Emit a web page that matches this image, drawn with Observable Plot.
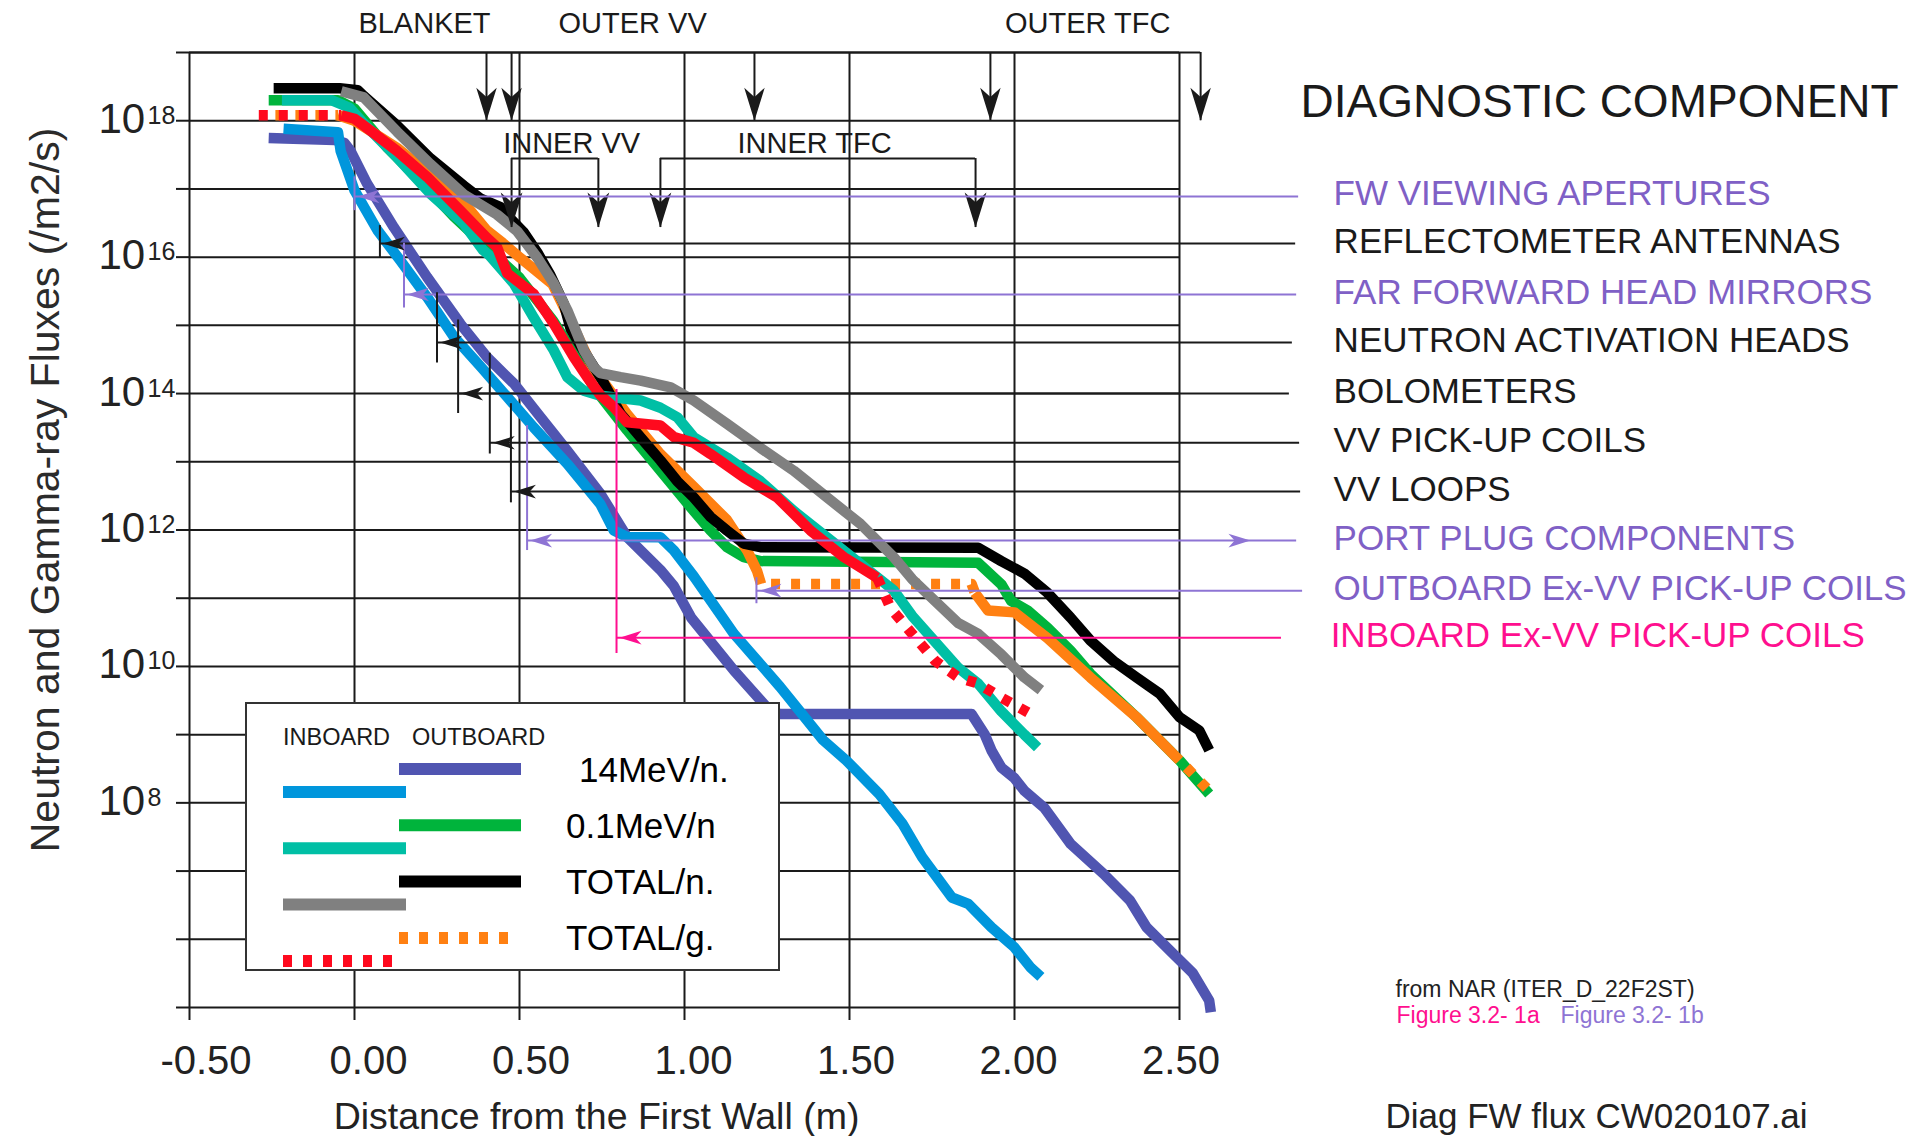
<!DOCTYPE html>
<html>
<head>
<meta charset="utf-8">
<script src="https://cdn.jsdelivr.net/npm/d3@7"></script>
<script src="https://cdn.jsdelivr.net/npm/@observablehq/plot@0.6"></script>
<style>
  html, body { margin: 0; padding: 0; background: #fff; }
  #chart { width: 1917px; height: 1136px; overflow: hidden; }
</style>
</head>
<body>
<div id="chart"></div>
<script>
const FONT = '"Liberation Sans", Arial, Helvetica, sans-serif';

// ---- colours --------------------------------------------------------------
const BLUE = "#0096dc", TEAL = "#00bfa5", GRAY = "#808080", RED = "#ff0a1e";
const PURPLE = "#5055b1", GREEN = "#00b43c", BLACK = "#000000", ORANGE = "#ff8012";
const LABEL_PURPLE = "#7f60c6", LEADER_PURPLE = "#8e74d4", PINK = "#ff0f8f", INK = "#1a1a1a";

// ---- axes -----------------------------------------------------------------
const xTicks = [-0.5, 0, 0.5, 1, 1.5, 2, 2.5];
const decades = [1e5, 1e6, 1e7, 1e8, 1e9, 1e10, 1e11, 1e12, 1e13, 1e14, 1e15, 1e16, 1e17, 1e18, 1e19];
const labeledExponents = [18, 16, 14, 12, 10, 8];

// ---- flux profiles: [distance from first wall (m), flux (/m2/s)] ----------
const inboard14MeV = [[-0.215, 7.6e17], [-0.05, 6.8e17], [-0.042, 3.6e17], [0.0, 9.5e16], [0.069, 2.5e16],
  [0.139, 8.9e15], [0.22, 2.6e15], [0.301, 6.8e14], [0.382, 2.5e14], [0.463, 8.9e13], [0.543, 3.2e13],
  [0.645, 9.3e12], [0.745, 2.4e12], [0.786, 9.8e11], [0.826, 7.9e11], [0.927, 7.8e11], [0.968, 5.0e11],
  [1.028, 2.1e11], [1.15, 3.0e10], [1.29, 5.0e9], [1.42, 8.3e8], [1.49, 4.2e8], [1.59, 1.35e8], [1.66, 5.0e7],
  [1.72, 1.6e7], [1.81, 4.1e6], [1.86, 3.3e6], [1.93, 1.5e6], [2.0, 7.6e5], [2.05, 3.8e5], [2.08, 2.8e5]];
const inboard01MeV = [[-0.22, 2.0e18], [-0.07, 2.0e18], [-0.015, 1.55e18], [0.028, 9.1e17], [0.129, 2.9e17],
  [0.23, 8.5e16], [0.331, 3.1e16], [0.39, 1.26e16], [0.41, 1.05e16], [0.483, 4.1e15], [0.543, 1.3e15],
  [0.604, 4.3e14], [0.645, 1.74e14], [0.695, 1.1e14], [0.745, 9.3e13], [0.867, 7.9e13], [0.927, 6.2e13],
  [0.978, 4.5e13], [1.028, 2.3e13], [1.129, 1.15e13], [1.23, 5.2e12], [1.331, 1.9e12], [1.432, 7.8e11],
  [1.533, 3.2e11], [1.634, 1.3e11], [1.69, 5.5e10], [1.83, 9.5e9], [1.89, 5.6e9], [1.96, 2.2e9],
  [2.03, 1.0e9], [2.07, 6.5e8]];
const inboardTotalN = [[-0.04, 2.7e18], [0.028, 2.2e18], [0.129, 6.9e17], [0.23, 2.3e17], [0.331, 8.3e16],
  [0.432, 4.2e16], [0.493, 2.4e16], [0.554, 9.8e15], [0.604, 4.1e15], [0.645, 1.66e15], [0.695, 4.3e14],
  [0.725, 2.45e14], [0.745, 2.0e14], [0.806, 1.74e14], [0.867, 1.55e14], [0.958, 1.23e14], [1.028, 7.9e13],
  [1.129, 3.6e13], [1.23, 1.6e13], [1.331, 7.4e12], [1.432, 3.0e12], [1.533, 1.23e12], [1.634, 4.0e11],
  [1.69, 1.9e11], [1.83, 4.3e10], [1.89, 3.0e10], [1.96, 1.5e10], [2.03, 6.9e9], [2.08, 4.5e9]];
const inboardTotalG = [[-0.29, 1.2e18], [-0.04, 1.2e18], [0.0, 1.07e18], [0.028, 8.5e17], [0.129, 3.6e17],
  [0.22, 1.5e17], [0.321, 4.8e16], [0.402, 1.9e16], [0.432, 1.4e16], [0.463, 5.8e15], [0.543, 2.9e15],
  [0.604, 1.05e15], [0.665, 3.4e14], [0.705, 1.74e14], [0.745, 9.5e13], [0.786, 6.3e13], [0.826, 3.8e13],
  [0.927, 3.4e13], [0.968, 2.3e13], [1.028, 1.9e13], [1.079, 1.3e13], [1.18, 5.9e12], [1.281, 3.0e12],
  [1.382, 9.8e11], [1.483, 4.0e11], [1.584, 2.0e11], [1.624, 7.2e10], [1.69, 3.0e10], [1.76, 1.2e10],
  [1.83, 6.9e9], [1.89, 5.6e9], [1.96, 3.5e9], [2.05, 2.0e9]];
const outboard14MeV = [[-0.26, 5.6e17], [-0.06, 5.2e17], [-0.03, 4.7e17], [-0.012, 3.6e17], [0.038, 1.2e17],
  [0.119, 2.75e16], [0.22, 5.1e15], [0.321, 1.05e15], [0.402, 3.4e14], [0.483, 1.4e14], [0.564, 4.5e13],
  [0.645, 1.45e13], [0.745, 3.4e12], [0.826, 7.9e11], [0.927, 2.6e11], [0.968, 1.5e11], [1.02, 5.2e10],
  [1.15, 8.7e9], [1.26, 2.2e9], [1.29, 2.0e9], [1.87, 2.0e9], [1.91, 1.0e9], [1.93, 5.9e8], [1.96, 3.3e8],
  [2.0, 2.3e8], [2.03, 1.5e8], [2.09, 8.5e7], [2.17, 2.5e7], [2.27, 9.1e6], [2.35, 3.7e6], [2.40, 1.5e6],
  [2.48, 6.2e5], [2.54, 3.2e5], [2.59, 1.26e5], [2.595, 8.5e4]];
const outboard01MeV = [[-0.26, 2.0e18], [-0.05, 2.0e18], [0.0, 1.5e18], [0.1, 4.0e17], [0.2, 1.3e17],
  [0.3, 4.0e16], [0.4, 1.4e16], [0.5, 5.0e15], [0.6, 1.2e15], [0.68, 3.0e14], [0.725, 1.23e14],
  [0.826, 2.9e13], [0.927, 7.4e12], [1.028, 1.9e12], [1.079, 9.8e11], [1.129, 5.6e11], [1.18, 4.0e11],
  [1.23, 3.5e11], [1.89, 3.3e11], [1.96, 1.6e11], [1.99, 9.1e10], [2.04, 6.6e10], [2.10, 3.7e10],
  [2.17, 1.7e10], [2.23, 7.8e9], [2.37, 1.8e9], [2.50, 4.2e8], [2.59, 1.35e8]];
const outboardTotalN = [[-0.245, 3.0e18], [-0.045, 3.0e18], [0.01, 2.8e18], [0.028, 2.3e18], [0.129, 8.5e17],
  [0.23, 2.8e17], [0.331, 1.12e17], [0.382, 7.2e16], [0.442, 5.4e16], [0.463, 4.1e16], [0.513, 2.3e16],
  [0.554, 1.17e16], [0.594, 5.4e15], [0.634, 2.1e15], [0.655, 8.9e14], [0.685, 5.0e14], [0.75, 1.6e14],
  [0.806, 5.1e13], [0.877, 2.0e13], [0.927, 1.05e13], [0.978, 5.2e12], [1.028, 3.0e12], [1.079, 1.55e12],
  [1.129, 9.8e11], [1.18, 6.3e11], [1.23, 5.6e11], [1.89, 5.5e11], [1.96, 3.5e11], [2.03, 2.3e11],
  [2.10, 1.2e11], [2.17, 5.2e10], [2.23, 2.4e10], [2.30, 1.2e10], [2.37, 6.9e9], [2.44, 4.0e9],
  [2.50, 1.8e9], [2.56, 1.15e9], [2.59, 5.9e8]];
const outboardTotalG = [[-0.27, 1.2e18], [-0.05, 1.2e18], [0.0, 1.0e18], [0.129, 4.0e17], [0.23, 1.6e17],
  [0.331, 6.3e16], [0.40, 2.5e16], [0.45, 1.6e16], [0.50, 1.0e16], [0.55, 6.3e15], [0.60, 4.0e15],
  [0.65, 1.3e15], [0.72, 2.5e14], [0.826, 5.0e13], [0.927, 1.3e13], [1.028, 4.3e12], [1.129, 1.4e12],
  [1.19, 5.0e11], [1.22, 2.5e11], [1.232, 1.62e11], [1.87, 1.62e11], [1.88, 1.2e11], [1.92, 6.6e10],
  [2.00, 6.2e10], [2.10, 2.6e10], [2.23, 6.9e9], [2.37, 1.8e9], [2.50, 4.2e8], [2.59, 1.5e8]];

// stretches (m) drawn with the dotted gamma style
const inboardTotalGDotted = [[-0.3, -0.035], [1.58, 2.1]];
const outboardTotalGDotted = [[-0.3, -0.045], [1.227, 1.875], [2.53, 2.6]];

// ---- machine structure along the radial path ------------------------------
const outerLabels = ["BLANKET", "OUTER VV", "OUTER TFC"];
const outerLabelX = [0.212, 0.843, 2.222];
const outerArrowX = [0.40, 0.476, 1.212, 1.927, 2.564];
const innerLabels = ["INNER VV", "INNER TFC"];
const innerLabelX = [0.658, 1.394];
const innerFrom = [0.476, 0.927];
const innerTo = [0.739, 1.882];

// ---- diagnostic components and their flux levels ---------------------------
const componentNames = ["FW VIEWING APERTURES", "REFLECTOMETER ANTENNAS", "FAR FORWARD HEAD MIRRORS",
  "NEUTRON ACTIVATION HEADS", "BOLOMETERS", "VV PICK-UP COILS", "VV LOOPS", "PORT PLUG COMPONENTS",
  "OUTBOARD Ex-VV PICK-UP COILS", "INBOARD Ex-VV PICK-UP COILS"];
const componentFlux = [7.75e16, 1.58e16, 2.83e15, 5.6e14, 1.0e14, 1.9e13, 3.66e12, 7.0e11, 1.29e11, 2.64e10];
const componentX = [0.0, 0.077, 0.15, 0.25, 0.314, 0.41, 0.474, 0.523, 1.218, 0.794];
const componentLineEnd = [2.861, 2.852, 2.855, 2.842, 2.833, 2.864, 2.867, 2.855, 2.873, 2.809];
const componentLow = [4.8e16, 9.8e15, 1.8e15, 2.8e14, 5.1e13, 1.3e13, 2.5e12, 5.0e11, 8.3e10, 1.55e10];
const componentHigh = [1.5e17, 2.9e16, 1.6e16, 3.0e15, 1.2e15, 3.9e14, 7.1e13, 3.4e13, 2.0e11, 1.15e14];
const componentLabelX = [2.967, 2.967, 2.967, 2.967, 2.967, 2.967, 2.967, 2.967, 2.967, 2.958];
const componentKind = ["fig1b", "nar", "fig1b", "nar", "nar", "nar", "nar", "fig1b", "fig1b", "fig1a"];
const portPlugArrowX = [2.715];

// ---- legend ---------------------------------------------------------------
const legendLabels = ["14MeV/n.", "0.1MeV/n", "TOTAL/n.", "TOTAL/g."];
const outboardColors = [PURPLE, GREEN, BLACK, ORANGE];
const inboardColors = [BLUE, TEAL, GRAY, RED];
const legendDotted = [false, false, false, true];

const sourceNote = "from NAR (ITER_D_22F2ST)";
const figureRefs = ["Figure 3.2- 1a", "Figure 3.2- 1b"];
const fileName = "Diag FW flux CW020107.ai";

// ---------------------------------------------------------------------------
const textColor = {nar: INK, fig1b: LABEL_PURPLE, fig1a: PINK};
const leaderColor = {nar: INK, fig1b: LEADER_PURPLE, fig1a: PINK};

// filled stealth arrowhead, tip at the anchor, pointing down before rotation
const stealth = {
  draw(context, size) {
    const r = Math.sqrt(size / Math.PI);
    const len = 2 * r, hw = 0.62 * r;
    context.moveTo(0, 0);
    context.lineTo(-hw, -len);
    context.lineTo(0, -0.72 * len);
    context.lineTo(hw, -len);
    context.closePath();
  }
};

// split a profile into solid and dotted runs
function runs(name, points, dotted = []) {
  const rows = [];
  let run = -1, prev = null;
  for (let i = 0; i + 1 < points.length; i++) {
    const [x0, y0] = points[i], [x1, y1] = points[i + 1];
    const mid = (x0 + x1) / 2;
    const isDotted = dotted.some(([a, b]) => mid >= a && mid <= b);
    if (isDotted !== prev) {
      run++;
      rows.push({run: `${name}-${run}`, dotted: isDotted, x: x0, y: y0});
      prev = isDotted;
    }
    rows.push({run: `${name}-${run}`, dotted: isDotted, x: x1, y: y1});
  }
  return rows;
}

const LW = 10.5;
function curve(name, points, color, dotted = [], offset = 0) {
  const rows = runs(name, points, dotted);
  return [
    Plot.line(rows.filter(d => !d.dotted), {x: "x", y: "y", z: "run", stroke: color, strokeWidth: LW,
      strokeLinejoin: "round", strokeLinecap: "butt"}),
    Plot.line(rows.filter(d => d.dotted), {x: "x", y: "y", z: "run", stroke: color, strokeWidth: LW,
      strokeLinejoin: "round", strokeLinecap: "butt", strokeDasharray: "9 11", strokeDashoffset: offset})
  ];
}

// tick labels sit a little right of their ticks, more so toward the left
const xTickLabels = xTicks.map(t => Plot.text([t], {x: d => d, frameAnchor: "bottom", text: d => d.toFixed(2),
  dy: 66, dx: 14 - 5 * t, lineAnchor: "bottom", fontSize: 40, fill: "#222"}));

const idx = d3.range(componentNames.length);
const innerIdx = d3.range(innerLabels.length);

const chart = Plot.plot({
  width: 1917,
  height: 1136,
  marginLeft: 189,
  marginRight: 738,
  marginTop: 52,
  marginBottom: 129,
  style: {fontFamily: FONT, background: "#fff", color: INK, overflow: "visible"},
  x: {domain: [-0.5, 2.5]},
  y: {type: "log", domain: [1e5, 1e19]},
  marks: [
    // grid and frame
    Plot.gridX(xTicks, {stroke: INK, strokeOpacity: 1, strokeWidth: 2}),
    Plot.gridY(decades, {stroke: INK, strokeOpacity: 1, strokeWidth: 2}),
    Plot.axisX(xTicks, {tickSize: 13, tickFormat: () => "", label: null, stroke: INK, strokeWidth: 2}),
    Plot.axisY(decades, {tickSize: 13, tickFormat: () => "", label: null, stroke: INK, strokeWidth: 2}),

    // x tick labels
    ...xTickLabels,
    // y tick labels as 10 with a raised exponent
    Plot.text(labeledExponents, {y: e => 10 ** e, frameAnchor: "left", text: () => "10", textAnchor: "start",
      lineAnchor: "bottom", dx: -91, dy: 12, fontSize: 42, fill: "#222"}),
    Plot.text(labeledExponents, {y: e => 10 ** e, frameAnchor: "left", text: e => String(e), textAnchor: "start",
      lineAnchor: "bottom", dx: -42, dy: 3, fontSize: 25, fill: "#222"}),

    // axis titles
    Plot.text(["Neutron and Gamma-ray Fluxes (/m2/s)"], {frameAnchor: "left", text: d => d, rotate: -90,
      dx: -131, dy: -40, lineAnchor: "bottom", textAnchor: "middle", fontSize: 41, fill: "#2b2b2b"}),
    Plot.text(["Distance from the First Wall (m)"], {frameAnchor: "bottom", text: d => d, dx: -88, dy: 121,
      lineAnchor: "bottom", textAnchor: "middle", fontSize: 37.5, fill: "#222"}),

    // flux profiles
    ...curve("out14", outboard14MeV, PURPLE),
    ...curve("in14", inboard14MeV, BLUE),
    ...curve("out01", outboard01MeV, GREEN),
    ...curve("outG", outboardTotalG, ORANGE, outboardTotalGDotted, 10),
    ...curve("outN", outboardTotalN, BLACK),
    ...curve("inN", inboardTotalN, GRAY),
    ...curve("in01", inboard01MeV, TEAL),
    ...curve("inG", inboardTotalG, RED, inboardTotalGDotted, 0),

    // structure: outer row hanging from the top line
    Plot.ruleY([1e19], {x1: -0.5, x2: outerArrowX[outerArrowX.length - 1], stroke: INK, strokeWidth: 2}),
    Plot.ruleX(outerArrowX, {x: d => d, y1: 1e19, y2: 1e18, stroke: INK, strokeWidth: 2}),
    Plot.dot(outerArrowX, {x: d => d, y: () => 1e18, symbol: stealth, r: 16.5, fill: INK, stroke: "none"}),
    Plot.text(outerLabels, {x: (d, i) => outerLabelX[i], y: () => 1.9e19, text: d => d, lineAnchor: "bottom",
      textAnchor: "middle", fontSize: 29, fill: INK}),
    // structure: inner row brackets
    Plot.ruleY(innerIdx, {y: () => 2.79e17, x1: i => innerFrom[i], x2: i => innerTo[i], stroke: INK, strokeWidth: 2}),
    Plot.ruleX(innerFrom.concat(innerTo), {x: d => d, y1: 2.79e17, y2: 2.72e16, stroke: INK, strokeWidth: 2}),
    Plot.dot(innerFrom.concat(innerTo), {x: d => d, y: () => 2.72e16, symbol: stealth, r: 17.5, fill: INK, stroke: "none"}),
    Plot.text(innerLabels, {x: (d, i) => innerLabelX[i], y: () => 3.42e17, text: d => d, lineAnchor: "bottom",
      textAnchor: "middle", fontSize: 29, fill: INK}),

    // diagnostic components: leader lines, position ticks and arrowheads
    Plot.ruleY(idx, {y: i => componentFlux[i], x1: i => componentX[i], x2: i => componentLineEnd[i],
      stroke: i => leaderColor[componentKind[i]], strokeWidth: 2}),
    Plot.ruleX(idx, {x: i => componentX[i], y1: i => componentLow[i], y2: i => componentHigh[i],
      stroke: i => leaderColor[componentKind[i]], strokeWidth: 2}),
    Plot.dot(idx, {x: i => componentX[i], y: i => componentFlux[i], symbol: stealth, r: 11, rotate: 90, dx: 3,
      fill: i => leaderColor[componentKind[i]], stroke: "none"}),
    Plot.dot(portPlugArrowX, {x: d => d, y: () => componentFlux[7], symbol: stealth, r: 11, rotate: -90,
      fill: LEADER_PURPLE, stroke: "none"}),
    Plot.text(["DIAGNOSTIC COMPONENT"], {x: () => 2.867, y: () => 1.15e18, text: d => d, textAnchor: "start",
      lineAnchor: "bottom", fontSize: 46, fill: INK}),
    Plot.text(idx, {x: i => componentLabelX[i], y: i => componentFlux[i], text: i => componentNames[i],
      fill: i => textColor[componentKind[i]], textAnchor: "start", lineAnchor: "bottom", dy: 9, fontSize: 35}),

    // source notes
    Plot.text([sourceNote], {frameAnchor: "bottom-right", text: d => d, textAnchor: "start", lineAnchor: "bottom",
      dx: 216, dy: -11, fontSize: 23, fill: "#222"}),
    Plot.text([figureRefs[0]], {frameAnchor: "bottom-right", text: d => d, textAnchor: "start", lineAnchor: "bottom",
      dx: 217, dy: 15, fontSize: 23, fill: PINK}),
    Plot.text([figureRefs[1]], {frameAnchor: "bottom-right", text: d => d, textAnchor: "start", lineAnchor: "bottom",
      dx: 381, dy: 15, fontSize: 23, fill: LEADER_PURPLE}),
    Plot.text([fileName], {frameAnchor: "bottom-right", text: d => d, textAnchor: "start", lineAnchor: "bottom",
      dx: 206, dy: 120, fontSize: 35, fill: "#222"})
  ]
});

// legend box drawn over the lower-left of the plot area
const svg = d3.select(chart);
const lg = svg.append("g").attr("font-family", FONT).attr("text-anchor", "start");
lg.append("rect").attr("x", 246).attr("y", 703).attr("width", 533).attr("height", 267)
  .attr("fill", "#fff").attr("stroke", "#333").attr("stroke-width", 2);
lg.append("text").attr("x", 283).attr("y", 745).attr("font-size", 23.5).attr("fill", INK).text("INBOARD");
lg.append("text").attr("x", 412).attr("y", 745).attr("font-size", 23.5).attr("fill", INK).text("OUTBOARD");
legendLabels.forEach((label, i) => {
  const outY = 769 + 56.3 * i, inY = outY + 23;
  const swatch = (x1, x2, y, color) => {
    const line = lg.append("line").attr("x1", x1).attr("x2", x2).attr("y1", y).attr("y2", y)
      .attr("stroke", color).attr("stroke-width", 12);
    if (legendDotted[i]) line.attr("stroke-dasharray", "9 11");
  };
  swatch(399, legendDotted[i] ? 514 : 521, outY, outboardColors[i]);
  swatch(283, legendDotted[i] ? 396 : 406, inY, inboardColors[i]);
  lg.append("text").attr("x", i === 0 ? 579 : 566).attr("y", outY + 12.5).attr("font-size", 35)
    .attr("fill", "#000").text(label);
});

document.getElementById("chart").appendChild(chart);
</script>
</body>
</html>
